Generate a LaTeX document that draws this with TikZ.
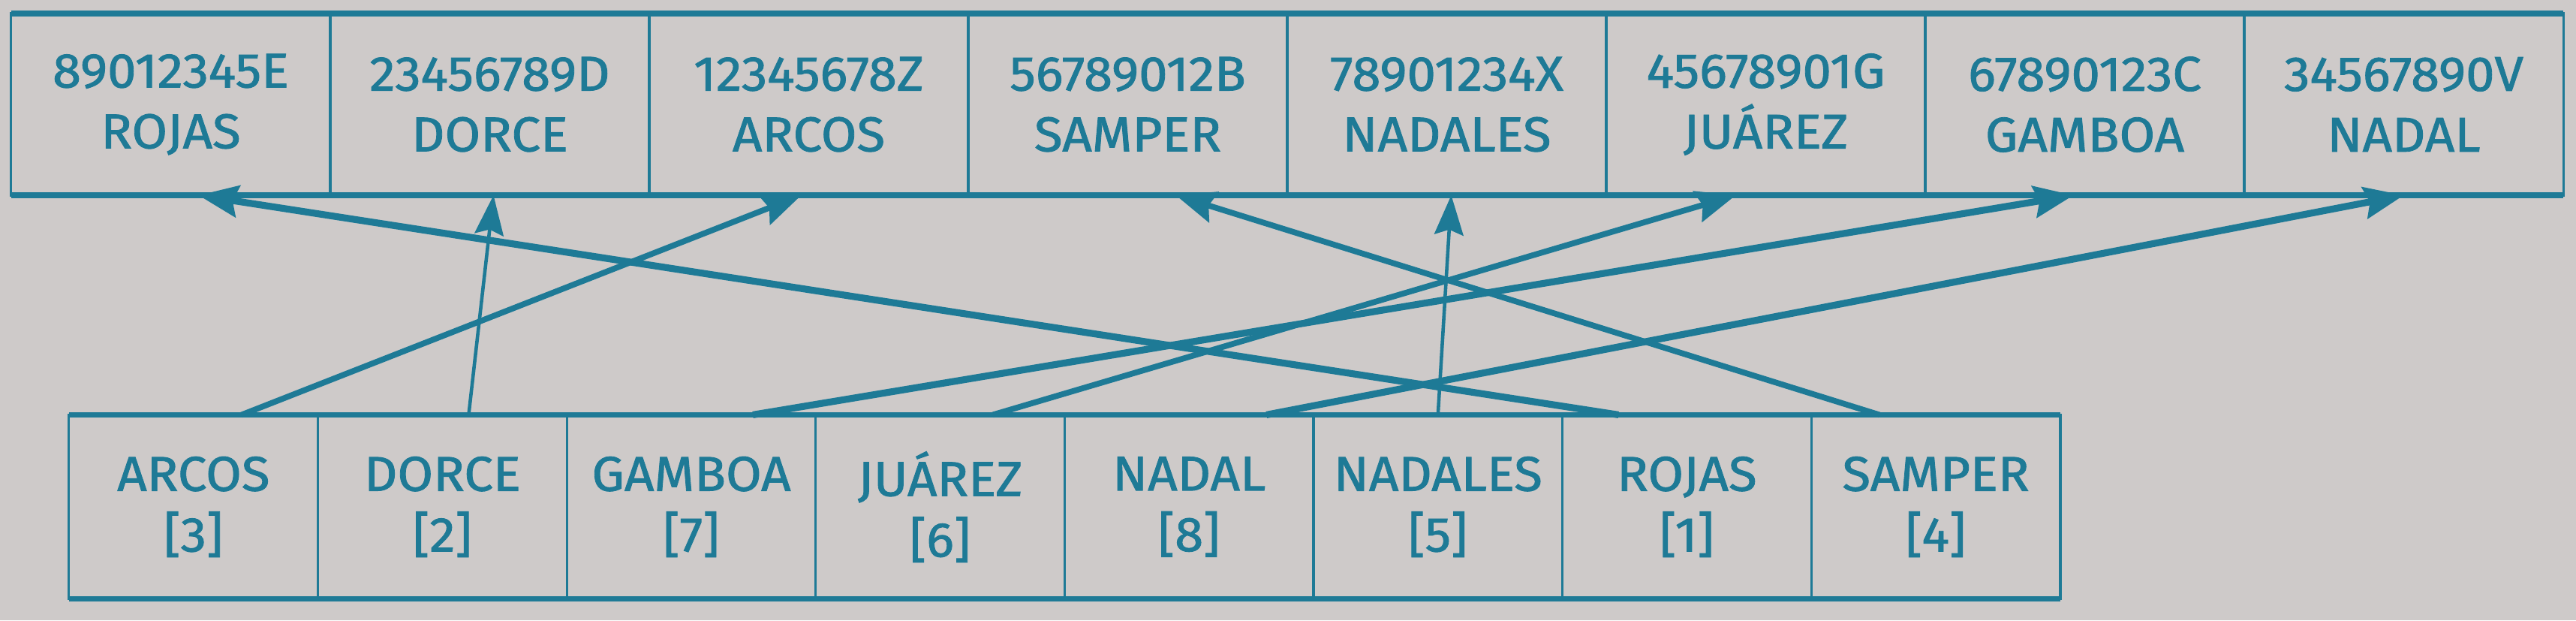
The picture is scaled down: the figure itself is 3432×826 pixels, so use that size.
\documentclass[tikz,border=0pt]{standalone}
\usepackage{fontspec}
\setmainfont{Fira Sans}[FakeStretch=1.06, FakeBold=1.3]
\usetikzlibrary{arrows.meta}
\definecolor{ink}{RGB}{30,122,150}
\definecolor{paper}{RGB}{206,202,201}
\begin{document}
\begin{tikzpicture}[x=0.01cm,y=-0.01cm,
  cell/.style={draw=ink, line width=0.9pt, inner sep=0pt, outer sep=0pt,
    text=ink, align=center, font=\fontsize{18.5}{23}\selectfont},
  tcell/.style={cell, minimum width=4.25cm, minimum height=2.42cm},
  bcell/.style={cell, minimum width=3.316cm, minimum height=2.45cm},
  edgeline/.style={draw=ink, line width=2.2pt},
  bigarrow/.style={draw=ink, line width=2.6pt, -{Stealth[length=15pt,width=12pt,inset=2pt]}},
  midarrow/.style={draw=ink, line width=2.2pt, -{Stealth[length=15pt,width=12pt,inset=2pt]}},
  thinarrow/.style={draw=ink, line width=1.3pt, -{Stealth[length=15pt,width=11pt,inset=2pt]}}]
\fill[paper] (0,0) rectangle (3432,826);
\useasboundingbox (0,0) rectangle (3432,826);
% top row
\node[tcell] (t1) at (227.5,139) {89012345E\\ROJAS};
\node[tcell] (t2) at (652.5,139) {23456789D\\DORCE};
\node[tcell] (t3) at (1077.5,139) {12345678Z\\ARCOS};
\node[tcell] (t4) at (1502.5,139) {56789012B\\SAMPER};
\node[tcell] (t5) at (1927.5,139) {78901234X\\NADALES};
\node[tcell] (t6) at (2352.5,139) {45678901G\\JUÁREZ};
\node[tcell] (t7) at (2777.5,139) {67890123C\\GAMBOA};
\node[tcell] (t8) at (3202.5,139) {34567890V\\NADAL};
\draw[edgeline] (t1.north west) -- (t8.north east);
\draw[edgeline] (t1.south west) -- (t8.south east);
% bottom row
\node[bcell] (b1) at (257.8,675) {ARCOS\\{[3]}};
\node[bcell] (b2) at (589.4,675) {DORCE\\{[2]}};
\node[bcell] (b3) at (921.0,675) {GAMBOA\\{[7]}};
\node[bcell] (b4) at (1252.6,675) {JUÁREZ\\{[6]}};
\node[bcell] (b5) at (1584.2,675) {NADAL\\{[8]}};
\node[bcell] (b6) at (1915.8,675) {NADALES\\{[5]}};
\node[bcell] (b7) at (2247.4,675) {ROJAS\\{[1]}};
\node[bcell] (b8) at (2579.0,675) {SAMPER\\{[4]}};
\draw[edgeline] (b1.north west) -- (b8.north east);
\draw[edgeline] (b1.south west) -- (b8.south east);
% connectors
\draw[midarrow] ([xshift=0.64cm]b1.north) -- ([xshift=-0.10cm]t3.south);
\draw[thinarrow] ([xshift=0.35cm]b2.north) -- ([xshift=0.05cm]t2.south);
\draw[bigarrow] ([xshift=0.82cm]b3.north) -- ([xshift=-0.15cm]t7.south);
\draw[midarrow] ([xshift=0.70cm]b4.north) -- ([xshift=-0.40cm]t6.south);
\draw[bigarrow] ([xshift=1.03cm]b5.north) -- (t8.south);
\draw[thinarrow] (b6.north) -- ([xshift=0.06cm]t5.south);
\draw[bigarrow] ([xshift=-0.91cm]b7.north) -- ([xshift=0.37cm]t1.south);
\draw[midarrow] ([xshift=-0.75cm]b8.north) -- ([xshift=0.64cm]t4.south);
\end{tikzpicture}
\end{document}
